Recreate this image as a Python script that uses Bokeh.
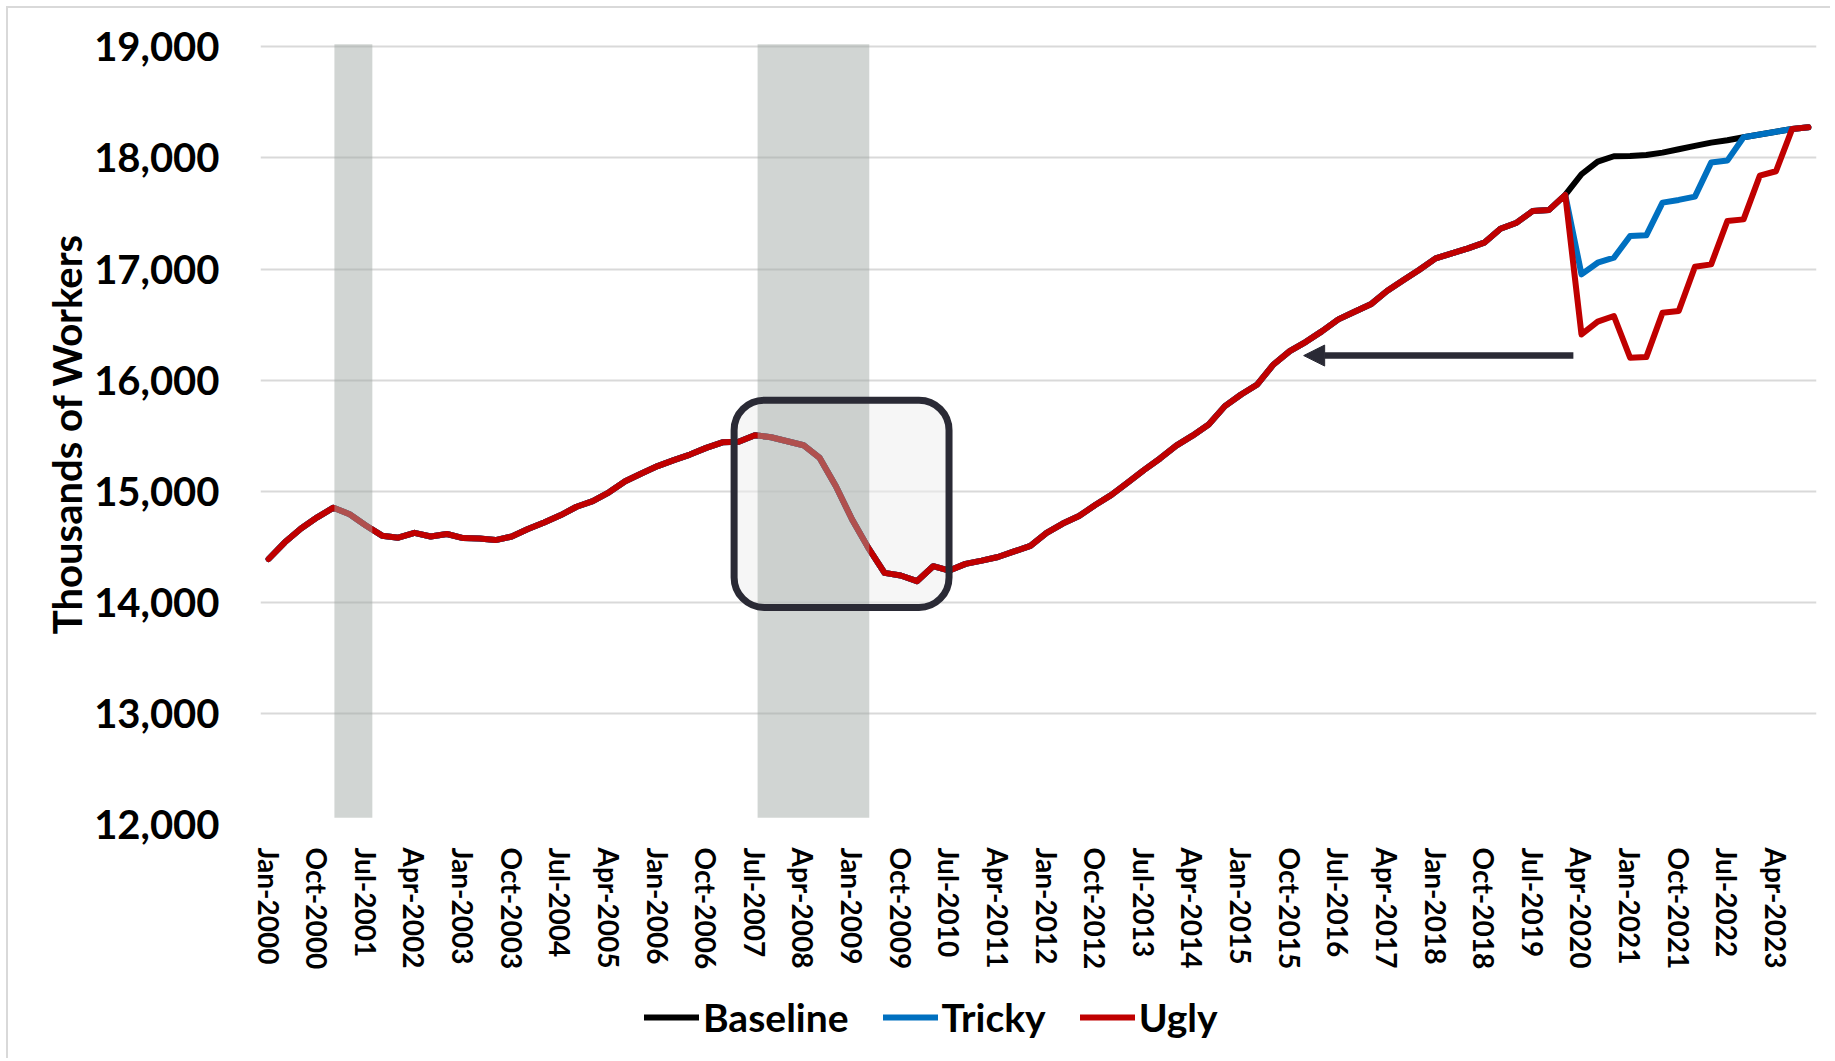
from bokeh.plotting import figure
from bokeh.layouts import column
from bokeh.models import (Range1d, FixedTicker, NumeralTickFormatter, BoxAnnotation,
                          Arrow, NormalHead, Legend, LegendItem, ColumnDataSource)
from bokeh.embed import file_html
from bokeh.resources import INLINE

# ---------------- data ----------------
# quarterly observations, Jan-2000 .. Oct-2023 (96 quarters); ticks every 3rd quarter
tick_labels = ["Jan-2000", "Oct-2000", "Jul-2001", "Apr-2002", "Jan-2003", "Oct-2003",
               "Jul-2004", "Apr-2005", "Jan-2006", "Oct-2006", "Jul-2007", "Apr-2008",
               "Jan-2009", "Oct-2009", "Jul-2010", "Apr-2011", "Jan-2012", "Oct-2012",
               "Jul-2013", "Apr-2014", "Jan-2015", "Oct-2015", "Jul-2016", "Apr-2017",
               "Jan-2018", "Oct-2018", "Jul-2019", "Apr-2020", "Jan-2021", "Oct-2021",
               "Jul-2022", "Apr-2023"]

# shared history Jan-2000 .. Jan-2020 (81 quarters), thousands of workers
history = [14390, 14540, 14665, 14765, 14852, 14793, 14692, 14600, 14582, 14625,
           14592, 14615, 14578, 14575, 14560, 14592, 14659, 14719, 14783, 14860,
           14910, 14990, 15090, 15160, 15226, 15280, 15330, 15390, 15440, 15445,
           15504, 15486, 15450, 15414, 15300, 15045, 14745, 14490, 14265, 14241,
           14190, 14325, 14286, 14346, 14375, 14408, 14458, 14508, 14625, 14709,
           14776, 14876, 14967, 15077, 15190, 15295, 15410, 15500, 15601, 15766,
           15871, 15961, 16141, 16261, 16345, 16441, 16547, 16616, 16682, 16802,
           16898, 16994, 17096, 17141, 17186, 17237, 17363, 17417, 17523, 17532,
           17667]

# scenarios Apr-2020 .. Oct-2023 (15 quarters)
baseline_tail = [17853, 17967, 18015, 18018, 18027, 18048, 18078, 18108, 18138, 18159,
                 18186, 18211, 18236, 18261, 18276]
tricky_tail = [16952, 17057, 17102, 17297, 17303, 17598, 17622, 17652, 17958, 17976,
               18186, 18211, 18236, 18261, 18276]
ugly_tail = [16411, 16526, 16577, 16201, 16207, 16607, 16622, 17021, 17042, 17432,
             17447, 17840, 17880, 18261, 18276]

series_names = ["Baseline", "Tricky", "Ugly"]
series_colors = ["#000000", "#0070C0", "#C00000"]

# recessions (in quarter-index units) : 2001 and 2007-2009
recession_start = [4.06, 30.17]
recession_end = [6.40, 37.06]
recession_low = [12060, 12060]
recession_high = [19024, 19024]

y_ticks = [12000, 13000, 14000, 15000, 16000, 17000, 18000, 19000]

# ---------------- build ----------------
n = len(history) + len(baseline_tail)
x = list(range(n))
tick_pos = list(range(0, n, 3))[:len(tick_labels)]

source = ColumnDataSource(dict(
    x=x,
    Baseline=history + baseline_tail,
    Tricky=history + tricky_tail,
    Ugly=history + ugly_tail,
))

FONT = "Lato"
DARK = "#2a2a35"
W = 1830

p = figure(width=W, height=985, output_backend="svg", toolbar_location=None,
           x_range=Range1d(-0.5, n - 0.5), y_range=Range1d(12000, 19030),
           min_border_left=260, min_border_right=14, min_border_top=43,
           min_border_bottom=161)
p.outline_line_color = None
p.background_fill_color = "white"
p.border_fill_alpha = 0

# highlight box fill (under the lines)
p.add_layout(BoxAnnotation(left=28.72, right=41.98, bottom=13954, top=15819,
                           fill_color="#eeeeee", fill_alpha=0.55, line_color=None,
                           line_alpha=0, border_radius=30, level="underlay"))

renderers = []
for name, col in zip(series_names, series_colors):
    r = p.line("x", name, source=source, line_color=col, line_width=6,
               line_join="round", line_cap="round")
    renderers.append(r)

# recession shading above the lines
p.quad(left=recession_start, right=recession_end, bottom=recession_low,
       top=recession_high, fill_color="#9ea8a4", fill_alpha=0.48, line_color=None)

# highlight box outline
p.add_layout(BoxAnnotation(left=28.72, right=41.98, bottom=13954, top=15819,
                           fill_color=None, fill_alpha=0, line_color=DARK, line_alpha=1.0,
                           line_width=7, border_radius=30))

# arrow
p.add_layout(Arrow(end=NormalHead(size=21, fill_color=DARK, line_color=DARK,
                                  line_width=1),
                   x_start=80.5, y_start=16221, x_end=63.86, y_end=16221,
                   line_color=DARK, line_width=6.5))

# axes
p.yaxis.ticker = FixedTicker(ticks=y_ticks)
p.yaxis.formatter = NumeralTickFormatter(format="0,0")
p.ygrid.ticker = FixedTicker(ticks=y_ticks)
p.ygrid.grid_line_color = "#d9d9d9"
p.ygrid.grid_line_width = 2
p.xgrid.visible = False

for ax in (p.xaxis[0], p.yaxis[0]):
    ax.axis_line_color = None
    ax.major_tick_line_color = None
    ax.minor_tick_line_color = None
    ax.major_label_text_font = FONT
    ax.major_label_text_font_style = "bold"
    ax.major_label_text_color = "black"

p.yaxis.major_label_text_font_size = "40px"
p.yaxis.major_label_standoff = 35
p.yaxis.axis_label = "Thousands of Workers"
p.yaxis.axis_label_text_font = FONT
p.yaxis.axis_label_text_font_style = "bold"
p.yaxis.axis_label_text_font_size = "40px"
p.yaxis.axis_label_text_color = "black"
p.yaxis.axis_label_standoff = 0

p.xaxis.ticker = FixedTicker(ticks=tick_pos)
p.xaxis.major_label_overrides = {pos: lab for pos, lab in zip(tick_pos, tick_labels)}
p.xaxis.major_label_orientation = "vertical"
p.xaxis.major_label_text_font_size = "28px"
p.xaxis.major_label_standoff = 17

# ---------------- legend strip ----------------
lg = figure(width=W, height=73, output_backend="svg", toolbar_location=None,
            x_range=Range1d(0, 1), y_range=Range1d(0, 1),
            x_axis_location=None, y_axis_location=None,
            min_border_left=0, min_border_right=0, min_border_top=0, min_border_bottom=0)
lg.grid.visible = False
lg.outline_line_color = None
lg.background_fill_alpha = 0
lg.border_fill_alpha = 0
nan = float("nan")
swatches = [lg.line(x=[nan], y=[nan], line_color=col, line_width=6, line_cap="round")
            for col in series_colors]
legend = Legend(items=[LegendItem(label=nm, renderers=[r]) for nm, r in zip(series_names, swatches)],
                location=(384, 18), orientation="horizontal",
                label_text_font=FONT, label_text_font_style="bold",
                label_text_font_size="39px", label_text_color="black",
                glyph_width=55, glyph_height=20, label_standoff=4, spacing=34,
                padding=0, margin=0, border_line_color=None,
                background_fill_alpha=0)
lg.add_layout(legend, "center")

layout = column(p, lg, spacing=0)
layout.styles = {"background": ("linear-gradient(#d9d9d9, #d9d9d9) 6px 6px / calc(100% - 6px) 2px no-repeat, "
                                "linear-gradient(#d9d9d9, #d9d9d9) 6px 6px / 2px calc(100% - 6px) no-repeat, "
                                "#ffffff")}

open("out.html", "w").write(file_html(layout, INLINE))
